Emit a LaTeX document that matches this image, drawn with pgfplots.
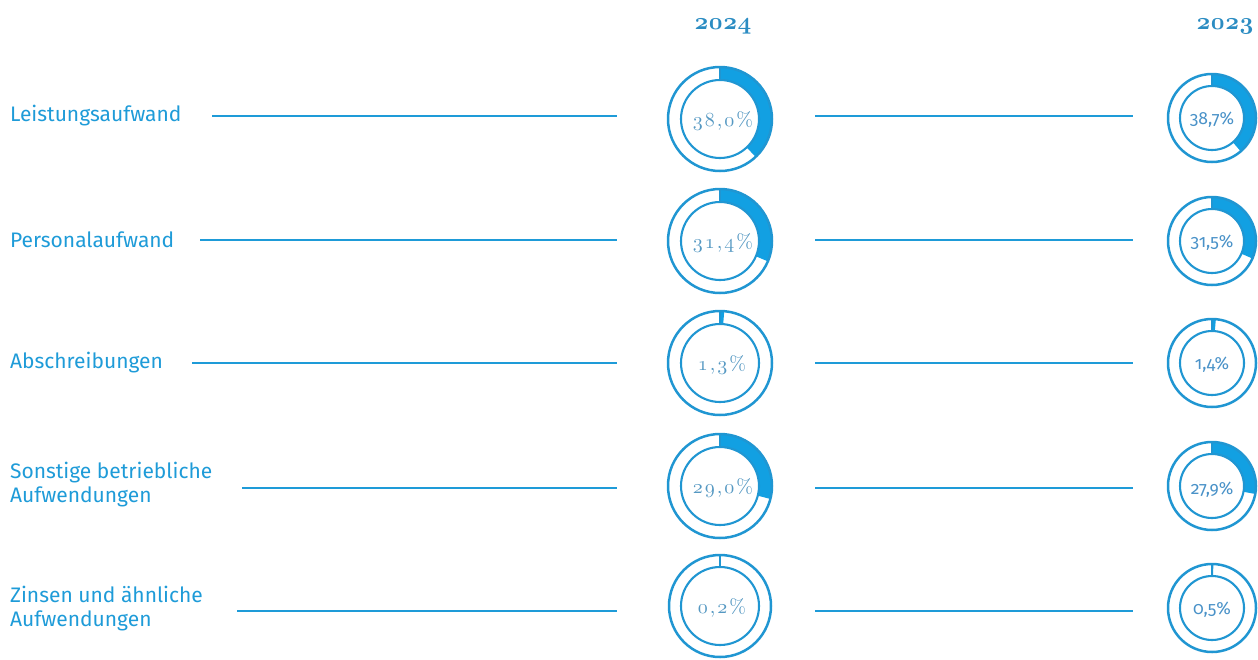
\documentclass[border=0pt]{standalone}
\usepackage{pgfplots}
\pgfplotsset{compat=1.18}
\usepackage{fontspec}
\newfontfamily\labelfont{Fira Sans}
\newfontfamily\pctsans{Fira Sans}[Numbers=OldStyle]
\definecolor{cblue}{HTML}{1E9BD8}
\definecolor{wedge}{HTML}{12A0E2}
\definecolor{ring}{HTML}{2096D2}
\definecolor{ptxt}{HTML}{5598C2}
\definecolor{ptxtb}{HTML}{4A92C8}
\definecolor{year}{HTML}{2B8CC2}
\newcommand\osf[1]{\ensuremath{\mathnormal{#1}}}
\newcommand\pcta[3]{\osf{#1}\kern1pt\osf{#2}\kern1pt,\kern1pt\osf{#3}\kern1pt\%}
\newcommand\pctb[2]{\osf{#1}\kern1pt,\kern1pt\osf{#2}\kern1pt\%}
% donut: cx, cy, outer r (px), inner r (px), value (%)
\newcommand\donut[5]{%
  \fill[wedge] ([shift={(90:#3*0.5pt)}]axis cs:#1,#2) arc[start angle=90, end angle={90-3.6*#5}, radius=#3*0.5pt]
    -- ([shift={({90-3.6*#5}:#4*0.5pt)}]axis cs:#1,#2) arc[start angle={90-3.6*#5}, end angle=90, radius=#4*0.5pt] -- cycle;
  \draw[ring, line width=1.0pt] ([shift={(90:#3*0.5pt)}]axis cs:#1,#2) -- ([shift={(90:#4*0.5pt)}]axis cs:#1,#2);
  \draw[ring, line width=1.25pt] (axis cs:#1,#2) circle[radius=#3*0.5pt];
  \draw[ring, line width=1.05pt] (axis cs:#1,#2) circle[radius=#4*0.5pt];
}
\begin{document}
\begin{tikzpicture}
\begin{axis}[name=ax, x=0.5pt, y=0.5pt, xmin=0, xmax=1258, ymin=0, ymax=659, y dir=reverse,
  hide axis, clip=false, scale only axis]
% connector lines
\addplot[cblue, line width=0.8pt, no marks] coordinates {(212,116) (617,116)};
\addplot[cblue, line width=0.8pt, no marks] coordinates {(200,240) (617,240)};
\addplot[cblue, line width=0.8pt, no marks] coordinates {(192,363) (617,363)};
\addplot[cblue, line width=0.8pt, no marks] coordinates {(242,488) (617,488)};
\addplot[cblue, line width=0.8pt, no marks] coordinates {(237,611) (617,611)};
\addplot[cblue, line width=0.8pt, no marks] coordinates {(815,116) (1133,116)};
\addplot[cblue, line width=0.8pt, no marks] coordinates {(815,240) (1133,240)};
\addplot[cblue, line width=0.8pt, no marks] coordinates {(815,363) (1133,363)};
\addplot[cblue, line width=0.8pt, no marks] coordinates {(815,488) (1133,488)};
\addplot[cblue, line width=0.8pt, no marks] coordinates {(815,611) (1133,611)};
% 2024 donuts
\donut{720}{119}{52}{39}{38.0}
\donut{720}{241}{52}{39}{31.4}
\donut{720}{363}{52}{39}{1.3}
\donut{720}{486}{52}{39}{29.0}
\donut{720}{606}{51}{39}{0.2}
% 2023 donuts
\donut{1212}{118}{44}{32}{38.7}
\donut{1212}{241}{44}{32}{31.5}
\donut{1212}{363}{44}{32}{1.4}
\donut{1212}{486}{44}{32}{27.9}
\donut{1212}{608}{44}{32}{0.5}
% percentages 2024
\node[ptxt, font=\fontsize{10}{12}\selectfont] at (axis cs:723,121) {\pcta{3}{8}{0}};
\node[ptxt, font=\fontsize{10}{12}\selectfont] at (axis cs:723,243) {\pcta{3}{1}{4}};
\node[ptxt, font=\fontsize{10}{12}\selectfont] at (axis cs:722,365) {\pctb{1}{3}};
\node[ptxt, font=\fontsize{10}{12}\selectfont] at (axis cs:723,488) {\pcta{2}{9}{0}};
\node[ptxt, font=\fontsize{10}{12}\selectfont] at (axis cs:722,608) {\pctb{0}{2}};
% percentages 2023
\node[ptxtb, font=\pctsans\fontsize{8.8}{10}\selectfont] at (axis cs:1212,120) {38,7\%};
\node[ptxtb, font=\pctsans\fontsize{8.8}{10}\selectfont] at (axis cs:1212,243) {31,5\%};
\node[ptxtb, font=\pctsans\fontsize{8.8}{10}\selectfont] at (axis cs:1212,365) {1,4\%};
\node[ptxtb, font=\pctsans\fontsize{8.8}{10}\selectfont] at (axis cs:1212,490) {27,9\%};
\node[ptxtb, font=\pctsans\fontsize{8.8}{10}\selectfont] at (axis cs:1212,610) {0,5\%};
% years
\node[year, font=\fontsize{13}{15}\selectfont\boldmath] at (axis cs:723,26) {\osf{2}\kern0.3pt\osf{0}\kern0.3pt\osf{2}\kern0.3pt\osf{4}};
\node[year, font=\fontsize{13}{15}\selectfont\boldmath] at (axis cs:1225,26) {\osf{2}\kern0.3pt\osf{0}\kern0.3pt\osf{2}\kern0.3pt\osf{3}};
% labels
\node[cblue, anchor=west, font=\labelfont\fontsize{10.5}{12}\selectfont] at (axis cs:3,116) {Leistungsaufwand};
\node[cblue, anchor=west, font=\labelfont\fontsize{10.5}{12}\selectfont] at (axis cs:3,240) {Personalaufwand};
\node[cblue, anchor=west, font=\labelfont\fontsize{10.5}{12}\selectfont] at (axis cs:3,363) {Abschreibungen};
\node[cblue, anchor=west, align=left, font=\labelfont\fontsize{10.5}{12}\selectfont] at (axis cs:3,485) {Sonstige betriebliche\\Aufwendungen};
\node[cblue, anchor=west, align=left, font=\labelfont\fontsize{10.5}{12}\selectfont] at (axis cs:3,609) {Zinsen und ähnliche\\Aufwendungen};
\end{axis}
\pgfresetboundingbox
\path (ax.south west) rectangle (ax.north east);
\end{tikzpicture}
\end{document}
